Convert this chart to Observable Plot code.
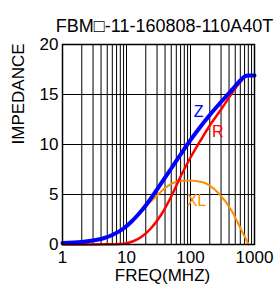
<!DOCTYPE html>
<html><head><meta charset="utf-8">
<script src="https://cdn.jsdelivr.net/npm/d3@7"></script>
<script src="https://cdn.jsdelivr.net/npm/@observablehq/plot@0.6"></script>
<style>body{margin:0;background:#fff;font-family:"Liberation Sans",Arial,sans-serif;}</style>
</head><body><div id="chart"></div>
<script>
const title = "FBM\u25A1-11-160808-110A40T";
const xLabel = "FREQ(MHZ)";
const yLabel = "IMPEDANCE";
const xTicks = [1, 10, 100, 1000];
const yTicks = [0, 5, 10, 15, 20];

const zFreq = [1, 2, 3, 4, 6, 9, 12, 15, 20, 30, 50, 70, 100, 150, 200, 300, 400, 500, 600, 700, 800, 1000];
const zVal  = [0.15, 0.25, 0.4, 0.55, 0.95, 1.6, 2.3, 2.95, 3.9, 5.5, 7.6, 9.0, 10.45, 11.95, 12.95, 14.25, 15.15, 15.85, 16.4, 16.8, 16.9, 16.9];

const rFreq = [1, 5, 8, 10, 13, 17, 24, 35, 50, 70, 100, 150, 200, 300, 400, 500, 600, 700, 800, 1000];
const rVal  = [0, 0.02, 0.06, 0.13, 0.35, 0.75, 1.6, 3.0, 4.8, 6.8, 8.7, 10.6, 11.9, 13.5, 14.7, 15.6, 16.25, 16.75, 16.9, 16.9];

const xlFreq = [1, 2, 3, 4, 6, 9, 12, 15, 20, 24, 30, 40, 50, 64, 92, 150, 272, 444, 635, 810];
const xlVal  = [0.15, 0.25, 0.4, 0.55, 0.95, 1.6, 2.3, 2.9, 3.8, 4.3, 4.9, 5.65, 6.07, 6.3, 6.4, 6.25, 5.15, 3.33, 1.34, 0];

const labels = [
  {name: "Z", f: 134, v: 13.3, color: "#0000ff"},
  {name: "R", f: 266, v: 11.25, color: "#ff0000"},
  {name: "XL", f: 124, v: 4.4, color: "#ff8c00"}
];

const toPts = (fs, vs) => fs.map((f, i) => ({f, v: vs[i]}));
const gridX = d3.range(0, 3).flatMap(e => d3.range(1, 10).map(k => k * 10 ** e)).concat([1000]);

const chart = Plot.plot({
  width: 280,
  height: 293,
  marginTop: 44,
  marginLeft: 62,
  marginRight: 26,
  marginBottom: 49,
  style: {fontFamily: "'Liberation Sans', Arial, sans-serif", fontSize: "17px", color: "#000", background: "#fff"},
  x: {type: "log", domain: [1, 1000], ticks: xTicks, tickFormat: d => String(d), tickSize: 0, tickPadding: 6, label: null},
  y: {domain: [0, 20], ticks: yTicks, tickSize: 0, tickPadding: 4, label: null},
  marks: [
    Plot.ruleX(gridX, {stroke: "#000", strokeWidth: 1}),
    Plot.ruleY(yTicks, {stroke: "#000", strokeWidth: 1}),
    Plot.line(toPts(xlFreq, xlVal), {x: "f", y: "v", stroke: "#ff8c00", strokeWidth: 2, curve: "monotone-x"}),
    Plot.line(toPts(rFreq, rVal), {x: "f", y: "v", stroke: "#ff0000", strokeWidth: 2.5, curve: "monotone-x"}),
    Plot.line(toPts(zFreq, zVal), {x: "f", y: "v", stroke: "#0000ff", strokeWidth: 4, curve: "monotone-x"}),
    Plot.frame({stroke: "#000", strokeWidth: 1.5}),
    Plot.text(labels, {x: "f", y: "v", text: "name", fill: "color", fontSize: 16}),
    Plot.text([title], {frameAnchor: "top", dx: 6, dy: -25, fontSize: 18}),
    Plot.text([xLabel], {frameAnchor: "bottom", dx: 4, dy: 36, fontSize: 17}),
    Plot.text([yLabel], {frameAnchor: "left", dx: -44, rotate: -90, fontSize: 17})
  ]
});
document.getElementById("chart").append(chart);
</script></body></html>
